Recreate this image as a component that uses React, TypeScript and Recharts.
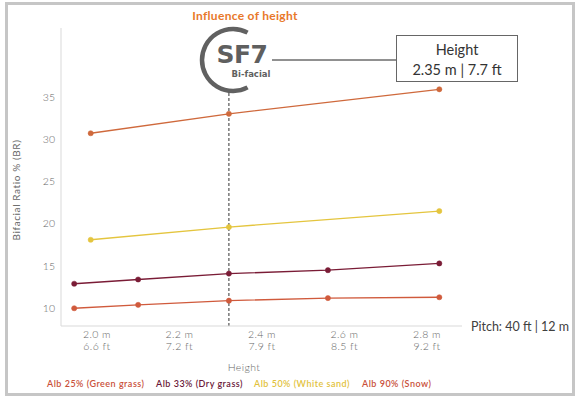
import { LineChart, Line, XAxis, YAxis, ReferenceLine } from 'recharts';

// heights (m) of the measured points
const heightsLow = [1.945, 2.1, 2.32, 2.56, 2.83];
const heightsHigh = [1.985, 2.32, 2.83];

const greenGrass = [10.0, 10.4, 10.9, 11.2, 11.3];
const dryGrass = [12.9, 13.4, 14.1, 14.5, 15.3];
const whiteSand = [18.1, 19.6, 21.5];
const snow = [30.7, 33.0, 35.9];

const xTicks = [2.0, 2.2, 2.4, 2.6, 2.8];
const xTickMeters = ['2.0 m', '2.2 m', '2.4 m', '2.6 m', '2.8 m'];
const xTickFeet = ['6.6 ft', '7.2 ft', '7.9 ft', '8.5 ft', '9.2 ft'];
const yTicks = [10, 15, 20, 25, 30, 35];

const selectedHeight = 2.32;

const toRows = (xs: number[], ys: number[]) => xs.map((h, i) => ({ h, br: ys[i] }));

const series = [
  { name: 'Alb 25% (Green grass)', data: toRows(heightsLow, greenGrass), color: '#d05a3c', text: '#c9503a', left: 47 },
  { name: 'Alb 33% (Dry grass)', data: toRows(heightsLow, dryGrass), color: '#7a1c36', text: '#6a1838', left: 156 },
  { name: 'Alb 50% (White sand)', data: toRows(heightsHigh, whiteSand), color: '#e4c53e', text: '#e2c23c', left: 254 },
  { name: 'Alb 90% (Snow)', data: toRows(heightsHigh, snow), color: '#cf693c', text: '#c9503a', left: 362 },
];

const tickFont = 'Lato, "Open Sans", sans-serif';
const logoFont = '"DejaVu Sans", sans-serif';

const HeightTick = (props: any) => {
  const { x, y, payload } = props;
  const i = xTicks.indexOf(payload.value);
  return (
    <g>
      <text x={x} y={y + 12} textAnchor="middle" fontSize={10.5} fill="#666" fontFamily={tickFont} fontWeight={300} letterSpacing={0.4}>
        {xTickMeters[i]}
      </text>
      <text x={x} y={y + 24} textAnchor="middle" fontSize={10.5} fill="#666" fontFamily={tickFont} fontWeight={300} letterSpacing={0.4}>
        {xTickFeet[i]}
      </text>
    </g>
  );
};

const YTitle = () => (
  <text
    x={16}
    y={190}
    transform="rotate(-90, 16, 190)"
    textAnchor="middle"
    dominantBaseline="central"
    fontSize={10}
    fill="#666"
    fontFamily={tickFont}
    letterSpacing={0.6}
  >
    Bifacial Ratio % (BR)
  </text>
);

function Logo() {
  const cx = 233;
  const cy = 60;
  const r = 31;
  const a0 = (-62 * Math.PI) / 180;
  const a1 = (62 * Math.PI) / 180;
  const p0 = [cx + r * Math.cos(a0), cy + r * Math.sin(a0)];
  const p1 = [cx + r * Math.cos(a1), cy + r * Math.sin(a1)];
  return (
    <svg width={579} height={120} style={{ position: 'absolute', left: 0, top: 0 }}>
      <path
        d={`M ${p0[0]} ${p0[1]} A ${r} ${r} 0 1 0 ${p1[0]} ${p1[1]}`}
        fill="none"
        stroke="#616161"
        strokeWidth={4.5}
      />
      <text x={242} y={63} textAnchor="middle" fontSize={25} fontWeight={700} fill="#5f5f5f" fontFamily={logoFont} letterSpacing={-0.5}>
        SF7
      </text>
      <text x={251} y={77} textAnchor="middle" fontSize={8.5} fontWeight={700} fill="#5f5f5f" fontFamily={logoFont}>
        Bi-facial
      </text>
      <line x1={272} y1={60} x2={396} y2={60} stroke="#222" strokeWidth={1} />
    </svg>
  );
}

export default function App() {
  return (
    <div style={{ position: 'absolute', left: 0, top: 0, width: 579, height: 399, background: '#fff', fontFamily: tickFont }}>
      <div
        style={{
          position: 'absolute',
          left: 5,
          top: 2,
          width: 570,
          height: 394,
          boxSizing: 'border-box',
          border: '3px solid #c6c6c6',
        }}
      />
      <LineChart width={579} height={399} margin={{ top: 28, right: 117, left: 0, bottom: 0 }} style={{ position: 'absolute', left: 0, top: 0 }}>
        <XAxis
          dataKey="h"
          type="number"
          domain={[1.913, 2.885]}
          allowDataOverflow
          ticks={xTicks}
          tick={<HeightTick />}
          tickLine={false}
          tickSize={0}
          tickMargin={0}
          height={73}
          axisLine={{ stroke: '#d9d9d9' }}
          allowDuplicatedCategory={false}
        />
        <YAxis
          type="number"
          domain={[7.9, 43.15]}
          allowDataOverflow
          ticks={yTicks}
          width={61}
          tickLine={false}
          tickSize={0}
          tickMargin={6}
          axisLine={{ stroke: '#d9d9d9' }}
          tick={{ fontSize: 10.5, fill: '#666', fontFamily: tickFont, fontWeight: 300 }}
          label={<YTitle />}
        />
        <ReferenceLine
          segment={[
            { x: selectedHeight, y: 7.9 },
            { x: selectedHeight, y: 35.6 },
          ]}
          stroke="#333"
          strokeDasharray="3 2"
        />
        {series.map((s) => (
          <Line
            key={s.name}
            data={s.data}
            dataKey="br"
            name={s.name}
            type="linear"
            stroke={s.color}
            strokeWidth={1.3}
            dot={{ r: 2.6, fill: s.color, stroke: s.color, strokeWidth: 0.5 }}
            isAnimationActive={false}
          />
        ))}
      </LineChart>
      <Logo />
      <div
        style={{
          position: 'absolute',
          left: 187,
          top: 8,
          width: 116,
          textAlign: 'center',
          color: '#e8782a',
          fontWeight: 700,
          fontSize: 12,
          letterSpacing: 0.3,
          whiteSpace: 'nowrap',
        }}
      >
        Influence of height
      </div>
      <div
        style={{
          position: 'absolute',
          left: 396,
          top: 35,
          width: 122,
          height: 47,
          boxSizing: 'border-box',
          border: '1px solid #666',
          background: '#fff',
          color: '#333',
          fontSize: 14.5,
          lineHeight: '20px',
          textAlign: 'center',
          paddingTop: 4,
        }}
      >
        <div>Height</div>
        <div>2.35 m | 7.7 ft</div>
      </div>
      <div style={{ position: 'absolute', left: 471, top: 319, fontSize: 12.5, color: '#404040', whiteSpace: 'nowrap' }}>
        Pitch: 40 ft | 12 m
      </div>
      <div style={{ position: 'absolute', left: 224, top: 361, width: 40, textAlign: 'center', fontSize: 10.5, color: '#666', fontWeight: 300, letterSpacing: 0.4 }}>
        Height
      </div>
      {series.map((s) => (
        <div
          key={s.name}
          style={{
            position: 'absolute',
            left: s.left,
            top: 378,
            fontSize: 9,
            color: s.text,
            letterSpacing: 0.5,
            whiteSpace: 'nowrap',
            fontWeight: 600,
          }}
        >
          {s.name}
        </div>
      ))}
    </div>
  );
}
